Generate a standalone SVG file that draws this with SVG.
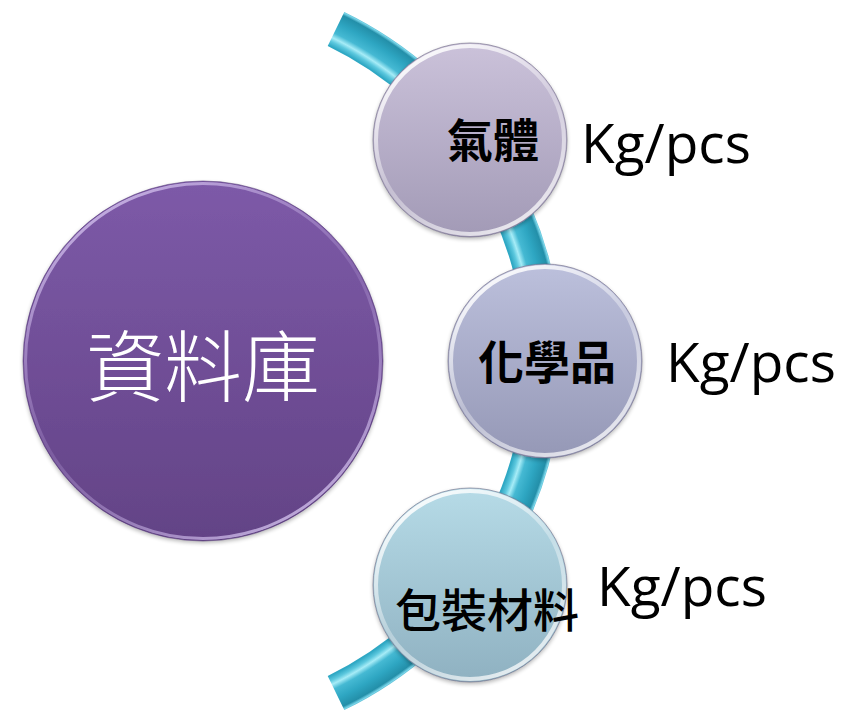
<svg xmlns="http://www.w3.org/2000/svg" width="855" height="714" viewBox="0 0 855 714">
  <defs>
    <radialGradient id="band" gradientUnits="userSpaceOnUse" cx="175" cy="361" r="390">
      <stop offset="0" stop-color="#2fa8c4"/>
      <stop offset="0.900" stop-color="#2fa8c4"/>
      <stop offset="0.912" stop-color="#5cc8de"/>
      <stop offset="0.922" stop-color="#a6ecf7"/>
      <stop offset="0.935" stop-color="#45b9d3"/>
      <stop offset="0.960" stop-color="#2ea6c2"/>
      <stop offset="0.985" stop-color="#238fa9"/>
      <stop offset="0.992" stop-color="#7ad6ea"/>
      <stop offset="1" stop-color="#2390aa"/>
    </radialGradient>
    <linearGradient id="gBig" x1="0" y1="0" x2="0" y2="1">
      <stop offset="0" stop-color="#7d5aa8"/>
      <stop offset="1" stop-color="#634386"/>
    </linearGradient>
    <linearGradient id="gTop" x1="0" y1="0" x2="0" y2="1">
      <stop offset="0" stop-color="#cbc2da"/>
      <stop offset="1" stop-color="#a29ab6"/>
    </linearGradient>
    <linearGradient id="gMid" x1="0" y1="0" x2="0" y2="1">
      <stop offset="0" stop-color="#bcc0dc"/>
      <stop offset="1" stop-color="#9598b6"/>
    </linearGradient>
    <linearGradient id="gBot" x1="0" y1="0" x2="0" y2="1">
      <stop offset="0" stop-color="#b6dbe7"/>
      <stop offset="1" stop-color="#8fb1c1"/>
    </linearGradient>
    <linearGradient id="rim" x1="0.2" y1="0" x2="0.8" y2="1">
      <stop offset="0" stop-color="#ffffff" stop-opacity="0.95"/>
      <stop offset="0.5" stop-color="#ffffff" stop-opacity="0.3"/>
      <stop offset="1" stop-color="#ffffff" stop-opacity="0.8"/>
    </linearGradient>
    <linearGradient id="rimBig" x1="0.2" y1="0" x2="0.8" y2="1">
      <stop offset="0" stop-color="#d9c8f2" stop-opacity="0.85"/>
      <stop offset="0.5" stop-color="#b49ad6" stop-opacity="0.25"/>
      <stop offset="1" stop-color="#d9c8f2" stop-opacity="0.85"/>
    </linearGradient>
    <filter id="sh" x="-10%" y="-10%" width="120%" height="120%">
      <feGaussianBlur in="SourceAlpha" stdDeviation="2"/>
      <feOffset dx="0" dy="2" result="b"/>
      <feComponentTransfer><feFuncA type="linear" slope="0.3"/></feComponentTransfer>
      <feMerge><feMergeNode/><feMergeNode in="SourceGraphic"/></feMerge>
    </filter>
  </defs>
  <style>
    .disc { filter: url(#sh); }
    .outline { fill: none; stroke: #6f6a86; stroke-width: 1; stroke-opacity: 0.6; }
    .rim { fill: none; stroke: url(#rim); stroke-width: 4; }
    .lbl { font-family: "Noto Sans CJK TC", "Noto Sans CJK SC", sans-serif; font-size: 46px; fill: #000; text-anchor: middle; dominant-baseline: central; }
    .unit { font-family: "Open Sans", "Noto Sans", sans-serif; font-size: 55px; fill: #000; }
  </style>

  <g id="connectors">
    <path d="M 336 29 A 369 369 0 0 1 336 693" fill="none" stroke="url(#band)" stroke-width="38"/>
  </g>

  <g id="node-database">
    <circle class="disc" cx="203" cy="361" r="180" fill="url(#gBig)"/>
    <circle cx="203" cy="361" r="177.5" fill="none" stroke="url(#rimBig)" stroke-width="3"/>
    <circle cx="203" cy="361" r="180" fill="none" stroke="#4d3470" stroke-opacity="0.5" stroke-width="1"/>
    <text x="203" y="362" font-family="'Noto Sans CJK TC', 'Noto Sans CJK SC', sans-serif" font-size="78" font-weight="300" fill="#ffffff" text-anchor="middle" dominant-baseline="central">資料庫</text>
  </g>

  <g id="node-gas">
    <circle class="disc" cx="470" cy="140" r="97" fill="url(#gTop)"/>
    <circle class="rim" cx="470" cy="140" r="94"/>
    <circle class="outline" cx="470" cy="140" r="97"/>
    <text class="lbl" x="493" y="137" font-weight="bold">氣體</text>
  </g>

  <g id="node-chemical">
    <circle class="disc" cx="545" cy="361" r="97" fill="url(#gMid)"/>
    <circle class="rim" cx="545" cy="361" r="94"/>
    <circle class="outline" cx="545" cy="361" r="97"/>
    <text class="lbl" x="547" y="359" font-weight="bold">化學品</text>
  </g>

  <g id="node-packaging">
    <circle class="disc" cx="470" cy="585" r="97" fill="url(#gBot)"/>
    <circle class="rim" cx="470" cy="585" r="94"/>
    <circle class="outline" cx="470" cy="585" r="97"/>
    <text class="lbl" x="487" y="607" font-weight="500">包裝材料</text>
  </g>

  <g id="units">
    <text class="unit" x="581" y="163">Kg/pcs</text>
    <text class="unit" x="666" y="382">Kg/pcs</text>
    <text class="unit" x="597" y="606">Kg/pcs</text>
  </g>
</svg>
